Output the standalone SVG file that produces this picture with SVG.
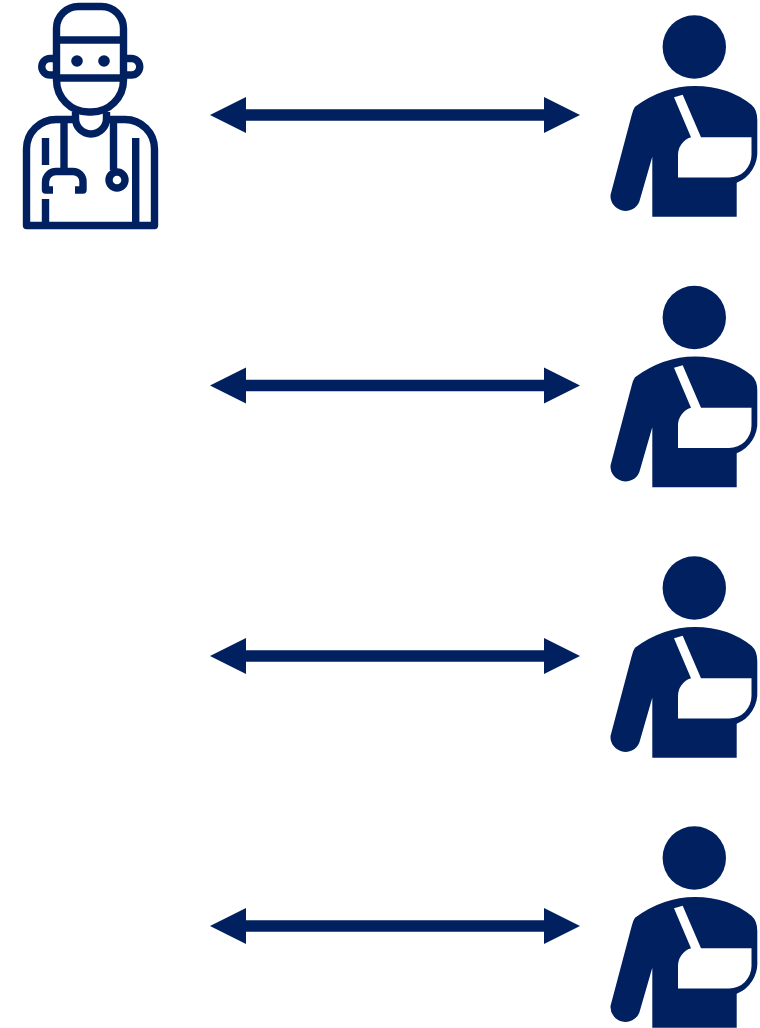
<svg xmlns="http://www.w3.org/2000/svg" width="760" height="1028" viewBox="0 0 760 1028">
<style>
.ln{fill:none;stroke:#002060;stroke-width:7.400;stroke-linejoin:round}
.cn{fill:none;stroke:#002060;stroke-width:11.500}
.f{fill:#002060}
.w{fill:#fff}
</style>
<defs>
<marker id="ah" markerUnits="userSpaceOnUse" markerWidth="38" markerHeight="38" refX="0" refY="19" orient="auto-start-reverse" viewBox="0 0 38 38"><polygon class="f" points="0,1 36,19 0,37"/></marker>
<g id="patient">
<circle class="f" cx="694.3" cy="47" r="31.7"/>
<path class="f" d="M635 106.700Q663.300 86 695 86Q728.300 86 751.700 105Q757.300 110 757.300 120V150A33 33 0 0 1 736.700 182.700V216.700H652.300V156.700L639.300 201.700A15 15 0 0 1 610.500 195L631.700 115Q632.700 110 635 106.700Z"/>
<path class="w" d="M674 97.300L682.700 94.700L701 137.300H751.500V155A22.500 22.500 0 0 1 729 177.500H678V155A18.500 18.500 0 0 1 691 137.300Z"/>
</g>
</defs>
<rect width="760" height="1028" fill="#fff"/>
<g id="connectors">
<line class="cn" x1="246" y1="115" x2="544" y2="115" marker-start="url(#ah)" marker-end="url(#ah)"/>
<line class="cn" x1="246" y1="385.500" x2="544" y2="385.500" marker-start="url(#ah)" marker-end="url(#ah)"/>
<line class="cn" x1="246" y1="656" x2="544" y2="656" marker-start="url(#ah)" marker-end="url(#ah)"/>
<line class="cn" x1="246" y1="926" x2="544" y2="926" marker-start="url(#ah)" marker-end="url(#ah)"/>
</g>
<g id="doctor">
<path class="ln" d="M56.500 40V28.500A22 22 0 0 1 78.500 6.500H101.500A22 22 0 0 1 123.500 28.500V80A32 32 0 0 1 91.500 112H88.500A32 32 0 0 1 56.500 80Z"/>
<path class="ln" d="M56.500 40H123.500M56.500 78H123.500"/>
<path class="ln" d="M56.500 58.500H50A8.200 8.200 0 0 0 50 75H56.500M123.500 58.500H131.500A8.200 8.200 0 0 1 131.500 75H123.500"/>
<circle class="f" cx="77" cy="61" r="5.800"/>
<circle class="f" cx="104" cy="61" r="5.800"/>
<path class="ln" d="M75.500 112V118.500A15.500 15.500 0 0 0 106.500 118.500V112"/>
<path class="ln" d="M75.500 119.500H56A29.500 29.500 0 0 0 26.500 149V225.500H154.500V149A29.500 29.500 0 0 0 125 119.500H106.500"/>
<path class="ln" d="M64 120V171.500H56A10.500 10.500 0 0 0 45.500 182V190H53M64 171.500H73A10 10 0 0 1 83 181.500V190H75"/>
<path class="ln" d="M113.500 120V170"/>
<circle class="ln" cx="117" cy="180" r="8"/>
<path class="ln" d="M45.500 138V165M45.500 199V225.500M135.700 138V225.500"/>
</g>
<g id="patient-1"><use href="#patient"/></g>
<g id="patient-2"><use href="#patient" y="270.500"/></g>
<g id="patient-3"><use href="#patient" y="541"/></g>
<g id="patient-4"><use href="#patient" y="811"/></g>
</svg>
